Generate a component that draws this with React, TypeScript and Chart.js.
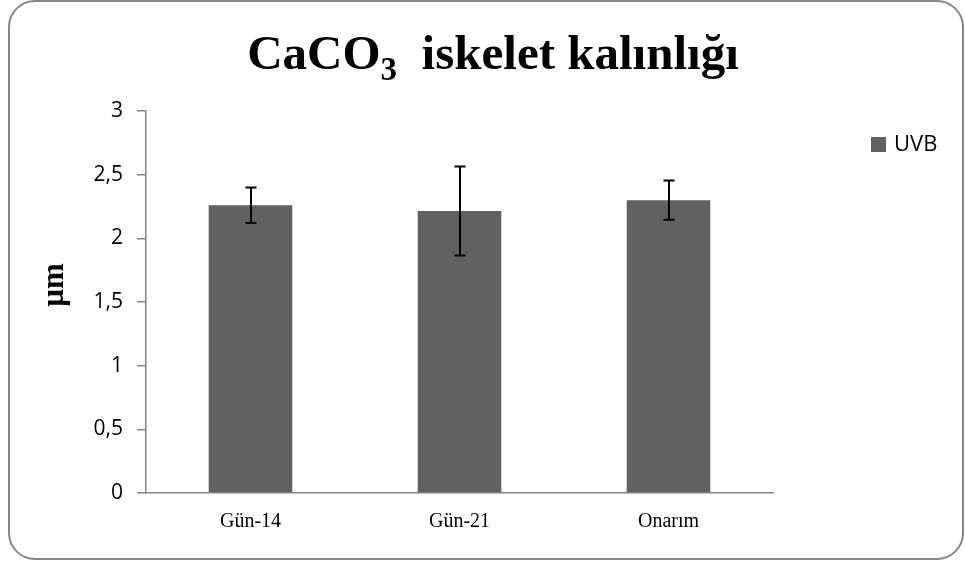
import React, { useEffect, useRef } from "react";
import { Chart, registerables } from "chart.js";

Chart.register(...registerables);

const categories = ["Gün-14", "Gün-21", "Onarım"];
const uvbValues = [2.26, 2.215, 2.3];
const uvbErrors = [0.14, 0.35, 0.155];
const yTicks = [0, 0.5, 1, 1.5, 2, 2.5, 3];
const seriesName = "UVB";
const titleMain = "CaCO";
const titleSub = "3";
const titleRest = "  iskelet kalınlığı";
const yAxisTitle = "µm";

const BAR_COLOR = "#616161";
const AXIS_COLOR = "#868686";

const framePlugin = {
  id: "frame",
  beforeDraw(chart: any) {
    const ctx = chart.ctx;
    ctx.save();
    ctx.fillStyle = "#ffffff";
    ctx.fillRect(0, 0, chart.width, chart.height);
    const x = 9, y = 1, w = 954, h = 558, r = 26;
    ctx.beginPath();
    ctx.moveTo(x + r, y);
    ctx.lineTo(x + w - r, y);
    ctx.arcTo(x + w, y, x + w, y + r, r);
    ctx.lineTo(x + w, y + h - r);
    ctx.arcTo(x + w, y + h, x + w - r, y + h, r);
    ctx.lineTo(x + r, y + h);
    ctx.arcTo(x, y + h, x, y + h - r, r);
    ctx.lineTo(x, y + r);
    ctx.arcTo(x, y, x + r, y, r);
    ctx.closePath();
    ctx.strokeStyle = AXIS_COLOR;
    ctx.lineWidth = 2;
    ctx.stroke();
    ctx.restore();
  },
  afterDraw(chart: any) {
    const ctx = chart.ctx;
    ctx.save();
    // Title with subscript
    const mainFont = "bold 49px 'Liberation Serif', 'Times New Roman', serif";
    const subFont = "bold 33px 'Liberation Serif', 'Times New Roman', serif";
    ctx.font = mainFont;
    const w1 = ctx.measureText(titleMain).width;
    const w3 = ctx.measureText(titleRest).width;
    ctx.font = subFont;
    const w2 = ctx.measureText(titleSub).width;
    const total = w1 + w2 + w3;
    let tx = 493 - total / 2;
    const baseY = 69;
    ctx.fillStyle = "#000";
    ctx.textBaseline = "alphabetic";
    ctx.textAlign = "left";
    ctx.font = mainFont;
    ctx.fillText(titleMain, tx, baseY);
    tx += w1;
    ctx.font = subFont;
    ctx.fillText(titleSub, tx, baseY + 11);
    tx += w2;
    ctx.font = mainFont;
    ctx.fillText(titleRest, tx, baseY);

    // Y axis title
    ctx.save();
    ctx.translate(63, 285);
    ctx.rotate(-Math.PI / 2);
    ctx.font = "bold 31px 'Liberation Serif', 'Times New Roman', serif";
    ctx.textAlign = "center";
    ctx.textBaseline = "alphabetic";
    ctx.fillText(yAxisTitle, 0, 0);
    ctx.restore();

    // Legend
    ctx.fillStyle = BAR_COLOR;
    ctx.fillRect(871, 137, 15, 15);
    ctx.fillStyle = "#000";
    ctx.font = "22px 'Open Sans', sans-serif";
    ctx.textAlign = "left";
    ctx.textBaseline = "middle";
    ctx.fillText(seriesName, 894, 145);
    ctx.restore();
  },
};

const errorBarPlugin = {
  id: "errorBars",
  afterDatasetsDraw(chart: any) {
    const ctx = chart.ctx;
    const xs = chart.scales.x;
    const ys = chart.scales.y;
    ctx.save();
    ctx.strokeStyle = "#000";
    ctx.lineWidth = 2;
    uvbValues.forEach((v, i) => {
      const e = uvbErrors[i];
      const x = Math.round(xs.getPixelForValue(i));
      const yt = ys.getPixelForValue(v + e);
      const yb = ys.getPixelForValue(v - e);
      ctx.beginPath();
      ctx.moveTo(x, yt);
      ctx.lineTo(x, yb);
      ctx.moveTo(x - 5.5, yt);
      ctx.lineTo(x + 5.5, yt);
      ctx.moveTo(x - 5.5, yb);
      ctx.lineTo(x + 5.5, yb);
      ctx.stroke();
    });
    ctx.restore();
  },
};

export default function App() {
  const ref = useRef<HTMLCanvasElement | null>(null);
  useEffect(() => {
    if (!ref.current) return;
    const chart = new Chart(ref.current, {
      type: "bar",
      data: {
        labels: categories,
        datasets: [
          {
            label: seriesName,
            data: uvbValues,
            backgroundColor: BAR_COLOR,
            borderWidth: 0,
            barPercentage: 0.4,
            categoryPercentage: 1,
          },
        ],
      },
      options: {
        animation: false,
        responsive: false,
        layout: { padding: { top: 111, left: 0, right: 192, bottom: 0 } },
        plugins: {
          legend: { display: false },
          tooltip: { enabled: false },
          title: { display: false },
        },
        scales: {
          x: {
            afterFit: (s: any) => {
              s.height = 70;
            },
            grid: { display: false, drawTicks: false },
            border: { display: true, color: AXIS_COLOR, width: 1.5 },
            ticks: {
              color: "#000",
              padding: 17,
              font: { family: "'Liberation Serif', 'Times New Roman', serif", size: 20 },
            },
          },
          y: {
            min: 0,
            max: 3,
            afterFit: (s: any) => {
              s.width = 146;
            },
            afterBuildTicks: (s: any) => {
              s.ticks = yTicks.map((v) => ({ value: v }));
            },
            grid: {
              display: true,
              drawOnChartArea: false,
              drawTicks: true,
              tickLength: 9,
              color: AXIS_COLOR,
              lineWidth: 1.5,
            },
            border: { display: true, color: AXIS_COLOR, width: 1.5 },
            ticks: {
              color: "#000",
              padding: 14,
              font: { family: "'Open Sans', sans-serif", size: 21 },
              callback: (v: any) => String(v).replace(".", ","),
            },
          },
        },
      },
      plugins: [framePlugin, errorBarPlugin],
    });
    return () => chart.destroy();
  }, []);
  return (
    <div style={{ position: "absolute", left: 0, top: 0, width: 965, height: 563 }}>
      <canvas ref={ref} width={965} height={563} />
    </div>
  );
}
